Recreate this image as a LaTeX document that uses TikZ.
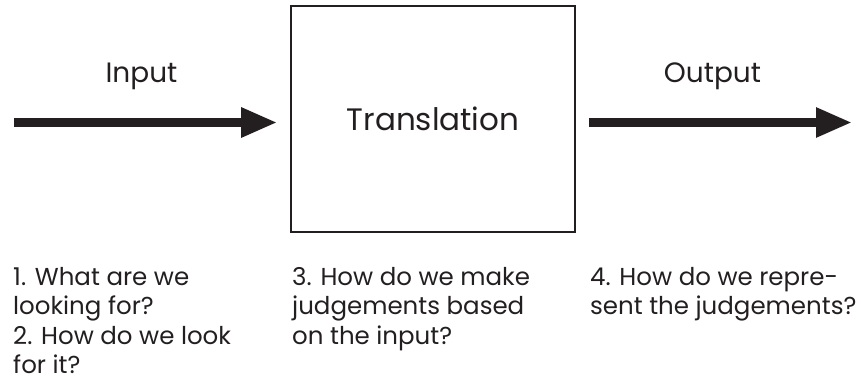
\documentclass[tikz,border=0pt]{standalone}
\usepackage{fontspec}
\setmainfont{Poppins}
\usetikzlibrary{arrows.meta}
\definecolor{ink}{HTML}{231F20}
\begin{document}
\begin{tikzpicture}[x=1pt,y=-1pt,
  label/.style={text=ink,inner sep=0pt,anchor=base,font=\fontsize{28}{34}\selectfont},
  note/.style={text=ink,inner sep=0pt,align=left,anchor=base west,
    font=\fontsize{24.5}{29.5}\selectfont},
  flow/.style={draw=ink,line width=8.5pt,
    -{Triangle[length=36pt,width=28pt]}}]
\useasboundingbox (0,0) rectangle (861,385);
% central process box
\node[draw=ink,line width=1.6pt,minimum width=284pt,minimum height=226pt,
  inner sep=0pt,text=ink,font=\fontsize{31}{36}\selectfont] (box) at (433,119) {Translation};
% arrow end points
\coordinate (in) at (14,122.5);
\coordinate (out) at (852,122.5);
\draw[flow,shorten >=13pt] (in) -- (in -| box.west);
\draw[flow,shorten <=13pt] (out -| box.east) -- (out);
% arrow captions
\node[label] (inlab) at (141.5,83) {Input};
\node[label] (outlab) at (712.5,83) {Output};
% questions under each stage (placed by the baseline of their last line)
\node[note] (q12) at (13,373.5) {1. What are we\\looking for?\\2. How do we look\\for it?};
\node[note] (q3) at (292,344) {3. How do we make\\judgements based\\on the input?};
\node[note] (q4) at (590,314.5) {4. How do we repre-\\sent the judgements?};
\end{tikzpicture}
\end{document}
